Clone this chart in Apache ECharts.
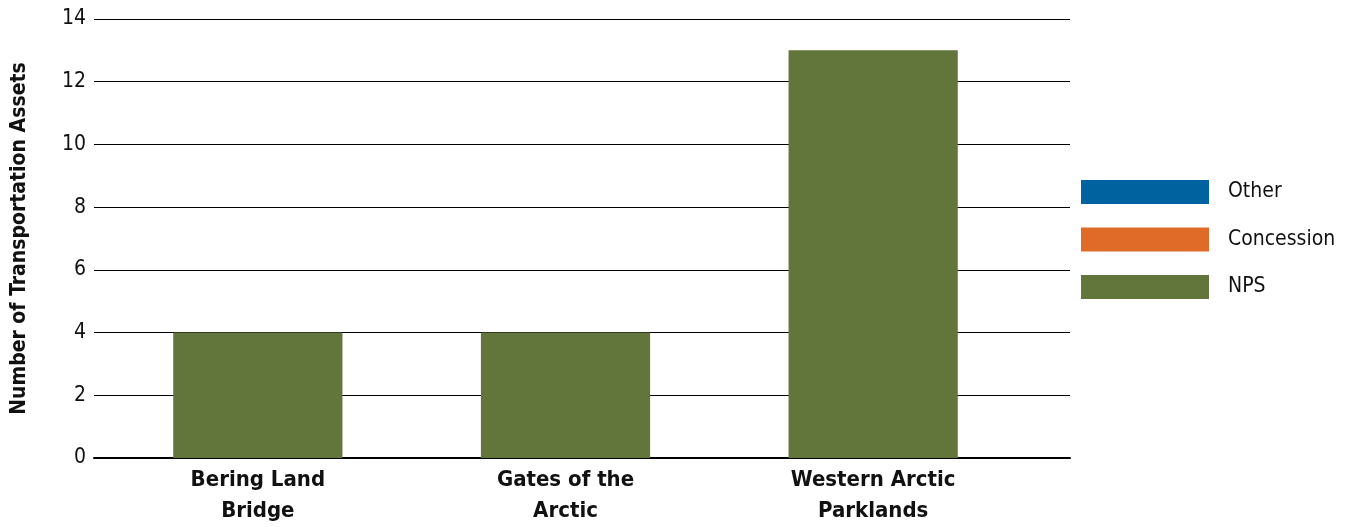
<!DOCTYPE html>
<html><head><meta charset="utf-8">
<script src="https://cdn.jsdelivr.net/npm/echarts@6/dist/echarts.min.js"></script>
<style>html,body{margin:0;padding:0;background:#fff}#c{width:1349px;height:527px}</style>
</head><body><div id="c"></div>
<script>
const categories = ['Bering Land\nBridge', 'Gates of the\nArctic', 'Western Arctic\nParklands'];
const nps = [4, 4, 13];
const concession = [0, 0, 0];
const other = [0, 0, 0];
const yTicks = [0, 2, 4, 6, 8, 10, 12, 14];
const FONT = '"Liberation Sans Narrow", "DejaVu Sans Condensed", Roboto, sans-serif';
const yMin = yTicks[0], yMax = yTicks[yTicks.length - 1];
const chart = echarts.init(document.getElementById('c'));
chart.setOption({
  animation: false,
  textStyle: {fontFamily: FONT},
  grid: [
    {left: 94, right: 279, top: 19, bottom: 69, outerBoundsMode: 'none', containLabel: false},
    {left: 104, width: 923, top: 19, bottom: 69, outerBoundsMode: 'none', containLabel: false}
  ],
  legend: {
    orient: 'vertical', left: 1081, top: 180, padding: 0,
    itemWidth: 128, itemHeight: 24, itemGap: 23.5, icon: 'rect',
    data: ['Other', 'Concession', 'NPS'],
    textStyle: {fontFamily: FONT, fontSize: 21, color: '#111', padding: [0, 0, 2, 14]}
  },
  xAxis: [
    {gridIndex: 0, type: 'category', data: categories,
     axisTick: {show: false}, axisLabel: {show: false},
     axisLine: {lineStyle: {color: '#000', width: 2}}},
    {gridIndex: 1, type: 'category', data: categories,
     axisTick: {show: false}, axisLine: {show: false},
     axisLabel: {fontFamily: FONT, fontWeight: 'bold', fontSize: 22, color: '#111', lineHeight: 31, margin: 7}}
  ],
  yAxis: [
    {gridIndex: 0, type: 'value', min: yMin, max: yMax, interval: 2,
     name: 'Number of Transportation Assets', nameLocation: 'middle', nameGap: 64,
     nameTextStyle: {fontFamily: FONT, fontWeight: 'bold', fontSize: 21, color: '#111'},
     axisLine: {show: false}, axisTick: {show: false},
     axisLabel: {fontFamily: FONT, fontSize: 21, color: '#111', margin: 8},
     splitLine: {lineStyle: {color: '#000', width: 1}}},
    {gridIndex: 1, type: 'value', min: yMin, max: yMax, interval: 2,
     axisLine: {show: false}, axisTick: {show: false}, axisLabel: {show: false}, splitLine: {show: false}}
  ],
  series: [
    {name: 'NPS', type: 'bar', stack: 's', xAxisIndex: 1, yAxisIndex: 1, data: nps, barWidth: '55%', itemStyle: {color: '#62753A'}},
    {name: 'Concession', type: 'bar', stack: 's', xAxisIndex: 1, yAxisIndex: 1, data: concession, itemStyle: {color: '#E06A27'}},
    {name: 'Other', type: 'bar', stack: 's', xAxisIndex: 1, yAxisIndex: 1, data: other, itemStyle: {color: '#00629E'}}
  ]
});
</script></body></html>
